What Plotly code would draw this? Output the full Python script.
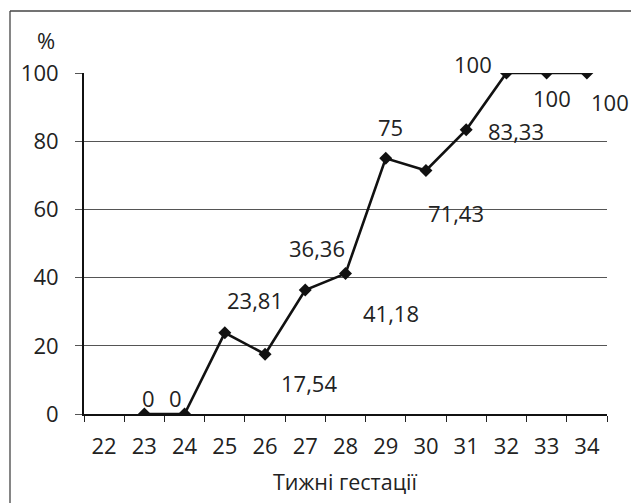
import plotly.graph_objects as go

weeks = ["22", "23", "24", "25", "26", "27", "28", "29", "30", "31", "32", "33", "34"]
percent = [None, 0, 0, 23.81, 17.54, 36.36, 41.18, 75, 71.43, 83.33, 100, 100, 100]
y_ticks = [0, 20, 40, 60, 80, 100]

# label offsets in pixels (dx, dy) relative to each marker
label_offsets = [None, (4, 16), (-9, 16), (30, 33), (44, -29), (12, 42), (45, -39),
                 (5, 31), (30, -43), (50, -1), (-33, 9), (5, -25), (23, -29)]

FONT = "Open Sans"
FS = 22

W, H = 631, 503
L, R, T, B = 84, 607, 73, 414  # plot area pixel bounds
pw, ph = R - L, B - T

def fmt(v):
    s = f"{v:.2f}".rstrip("0").rstrip(".")
    return s.replace(".", ",")

fig = go.Figure()
fig.add_trace(go.Scatter(
    x=weeks, y=percent, mode="lines+markers",
    line=dict(color="#111111", width=2.6),
    marker=dict(symbol="diamond", size=10, color="#111111"),
    connectgaps=False, showlegend=False, hoverinfo="skip",
))

annotations = []
for i, (v, off) in enumerate(zip(percent, label_offsets)):
    if v is None:
        continue
    annotations.append(dict(
        x=i, y=v, xref="x", yref="y", text=fmt(v), showarrow=False,
        xshift=off[0], yshift=off[1], xanchor="center", yanchor="middle",
        font=dict(family=FONT, size=FS, color="#222222"),
    ))

# "%" label
annotations.append(dict(
    x=(46 - L) / pw, y=1 + (T - 40) / ph, xref="paper", yref="paper",
    text="%", showarrow=False, xanchor="center", yanchor="middle",
    font=dict(family=FONT, size=FS, color="#222222"),
))
# x-axis title
annotations.append(dict(
    x=0.5, y=-(481 - B) / ph, xref="paper", yref="paper",
    text="Тижні гестації", showarrow=False, xanchor="center", yanchor="middle",
    font=dict(family=FONT, size=FS - 0.5, color="#222222"),
))

# outer frame (clipped by the image at right and bottom)
bx0 = (10 - L) / pw
bx1 = 1 + (W + 5 - R) / pw
by0 = -(H + 5 - B) / ph
by1 = 1 + (T - 11) / ph
frame = dict(color="#444444", width=1.3)
shapes = [
    dict(type="line", xref="paper", yref="paper", x0=bx0, x1=bx1, y0=by1, y1=by1, line=frame),
    dict(type="line", xref="paper", yref="paper", x0=bx0, x1=bx0, y0=by0, y1=by1, line=frame),
]

fig.update_layout(
    width=W, height=H,
    margin=dict(l=L, r=W - R, t=T, b=H - B),
    paper_bgcolor="white", plot_bgcolor="white",
    font=dict(family=FONT, size=FS, color="#222222"),
    annotations=annotations, shapes=shapes,
)
fig.update_xaxes(
    type="category", categoryorder="array", categoryarray=weeks,
    range=[-0.5, len(weeks) - 0.5], tickson="boundaries",
    ticks="outside", ticklen=6, tickwidth=1.2, tickcolor="#222222",
    showline=True, linecolor="#111111", linewidth=2,
    showgrid=False, zeroline=False, ticklabelstandoff=12,
    tickfont=dict(family=FONT, size=FS, color="#222222"),
)
fig.update_yaxes(
    range=[0, 100], tickvals=y_ticks,
    ticks="outside", ticklen=7, tickwidth=1, tickcolor="#555555",
    showline=True, linecolor="#111111", linewidth=2,
    showgrid=True, gridcolor="#555555", gridwidth=1, zeroline=False,
    ticklabelstandoff=12,
    tickfont=dict(family=FONT, size=FS, color="#222222"),
)

fig.write_html("out.html", config={"displayModeBar": False},
               post_script="document.body.style.margin='0';")
